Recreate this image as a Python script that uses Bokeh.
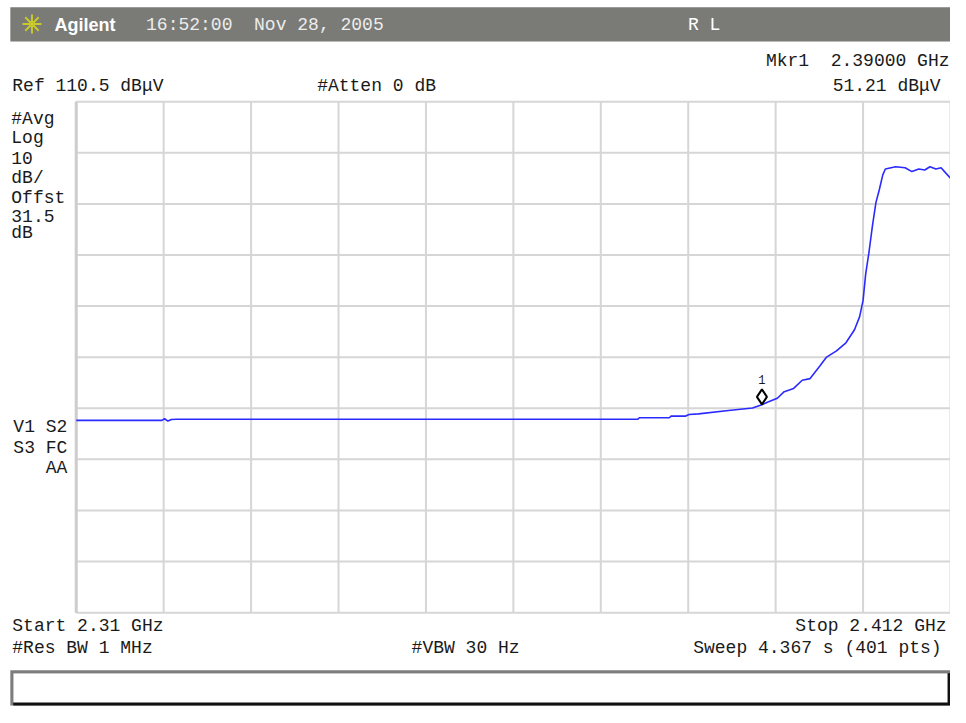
from bokeh.plotting import figure
from bokeh.models import Range1d
from bokeh.core.properties import value
from bokeh.embed import file_html
from bokeh.resources import INLINE

START_GHZ = 2.31
STOP_GHZ = 2.412
REF_LEVEL = 110.5      # dBuV, top of graticule
DB_PER_DIV = 10.0
N_DIV = 10

freq_ghz = [2.3100, 2.3200, 2.3203, 2.3207, 2.3211, 2.3217, 2.3755, 2.3757,
            2.3792, 2.3794, 2.3811, 2.3815, 2.3826, 2.3861, 2.3889, 2.3900,
            2.3907, 2.3918, 2.3926, 2.3937, 2.3947, 2.3956, 2.3968, 2.3975,
            2.3987, 2.3998, 2.4008, 2.4014, 2.4018, 2.4021, 2.4025, 2.4029,
            2.4033, 2.4037, 2.4041, 2.4044, 2.4056, 2.4067, 2.4075, 2.4083,
            2.4090, 2.4096, 2.4103, 2.4109, 2.4113, 2.4120]
level_dbuv = [48.14, 48.14, 48.45, 48.00, 48.30, 48.34, 48.34, 48.64,
              48.64, 48.97, 48.97, 49.29, 49.41, 50.06, 50.56, 51.21,
              51.71, 52.47, 53.75, 54.38, 55.99, 56.30, 58.86, 60.45,
              61.73, 63.32, 65.87, 68.43, 71.61, 76.72, 81.18, 86.29,
              90.75, 93.31, 96.18, 97.33, 97.77, 97.58, 96.82, 97.33,
              97.14, 97.77, 97.33, 97.58, 96.82, 95.53]

mkr_freq = [2.39]
mkr_level = [51.21]
mkr_label = ["1"]

NB = "\u00a0"
header_texts = ["Agilent", "16:52:00 " + NB + "Nov 28, 2005", "R L"]
left_texts = ["#Avg", "Log", "10", "dB/", "Offst", "31.5", "dB"]
flag_texts = ["V1 S2", "S3 FC", "AA"]

# ---------------- layout (reference pixels -> data) ----------------
W, H = 950, 707
L, R, T, B = 77.0, 966.0, 103.5, 626.0
XS = (STOP_GHZ - START_GHZ) / (R - L)
YS = (N_DIV * DB_PER_DIV) / (B - T)
BOTTOM_LEVEL = REF_LEVEL - N_DIV * DB_PER_DIV


def X(px):
    return START_GHZ + (px - L) * XS


def Y(py):
    return REF_LEVEL - (py - T) * YS


p = figure(width=W, height=H, output_backend="svg", toolbar_location=None,
           x_range=Range1d(X(0), X(966)), y_range=Range1d(Y(723), Y(0)),
           x_axis_location=None, y_axis_location=None, min_border=0)
p.grid.grid_line_color = None
p.outline_line_color = None
p.background_fill_color = "white"
p.border_fill_color = "white"

MONO = value("Liberation Mono")
TXT = "#1a1a1a"

# graticule
xt = [START_GHZ + i * (STOP_GHZ - START_GHZ) / N_DIV for i in range(N_DIV + 1)]
yt = [BOTTOM_LEVEL + i * DB_PER_DIV for i in range(N_DIV + 1)]
p.segment(x0=xt, x1=xt, y0=[BOTTOM_LEVEL] * len(xt), y1=[REF_LEVEL] * len(xt),
          line_color="#d6d6d6", line_width=2)
p.segment(x0=[START_GHZ] * len(yt), x1=[STOP_GHZ] * len(yt), y0=yt, y1=yt,
          line_color="#d6d6d6", line_width=2)
p.segment(x0=[START_GHZ], x1=[START_GHZ], y0=[BOTTOM_LEVEL], y1=[REF_LEVEL],
          line_color="#cdcdcd", line_width=3)

# trace
p.line(freq_ghz, level_dbuv, line_color="#2a2aff", line_width=1.6)

# marker
p.scatter([mkr_freq[0]], [mkr_level[0] + 8 * YS], marker="diamond", size=15,
          fill_color="white", line_color="black", line_width=2)
p.text([mkr_freq[0]], [mkr_level[0]], text=mkr_label, y_offset=-25,
       text_align="center", text_baseline="middle", text_font=MONO,
       text_font_size="12px", text_color=TXT)

# header bar
p.quad(left=[X(10)], right=[X(966)], top=[Y(7)], bottom=[Y(42)],
       fill_color="#7a7b77", line_color=None)
p.scatter([X(32)], [Y(24)], marker="asterisk", size=19,
          line_color="#c9c92a", line_width=2)
p.text([X(55)], [Y(25)], text=[header_texts[0]], text_align="left",
       text_baseline="middle", text_font=value("Liberation Sans"),
       text_font_style="bold", text_font_size="18px", text_color="white")
p.text([X(148)], [Y(25)], text=[header_texts[1]], text_align="left",
       text_baseline="middle", text_font=MONO, text_font_size="18px",
       text_color="#ececec")
p.text([X(699)], [Y(25)], text=[header_texts[2]], text_align="left",
       text_baseline="middle", text_font=MONO, text_font_size="18px",
       text_color="white")


def txt(px, py, s, align="left", size="18px"):
    p.text([X(px)], [Y(py)], text=[s], text_align=align,
           text_baseline="middle", text_font=MONO, text_font_size=size,
           text_color=TXT)


txt(965, 62, "Mkr1 " + NB + "2.39000 GHz", "right")
txt(956, 87, "51.21 dB\u03bcV", "right")
txt(12, 87, "Ref 110.5 dB\u03bcV")
txt(322, 87, "#Atten 0 dB")

for s, py in zip(left_texts, [121, 141, 161, 182, 202, 220, 238]):
    txt(11, py, s)
for s, py in zip(flag_texts, [436, 458, 478]):
    txt(68, py, s, "right")

txt(12, 640, "Start 2.31 GHz")
txt(12, 662, "#Res BW 1 MHz")
txt(418, 662, "#VBW 30 Hz")
txt(962, 640, "Stop 2.412 GHz", "right")
txt(957, 662, "Sweep 4.367 s (401 pts)", "right")

# bottom message box (bevelled)
p.quad(left=[X(10)], right=[X(966)], top=[Y(685)], bottom=[Y(721)],
       fill_color="#7d7d7d", line_color=None)
p.quad(left=[X(13)], right=[X(966)], top=[Y(688)], bottom=[Y(721)],
       fill_color="#111111", line_color=None)
p.quad(left=[X(13)], right=[X(963)], top=[Y(688)], bottom=[Y(718)],
       fill_color="white", line_color=None)

open("out.html", "w").write(file_html(p, INLINE))
